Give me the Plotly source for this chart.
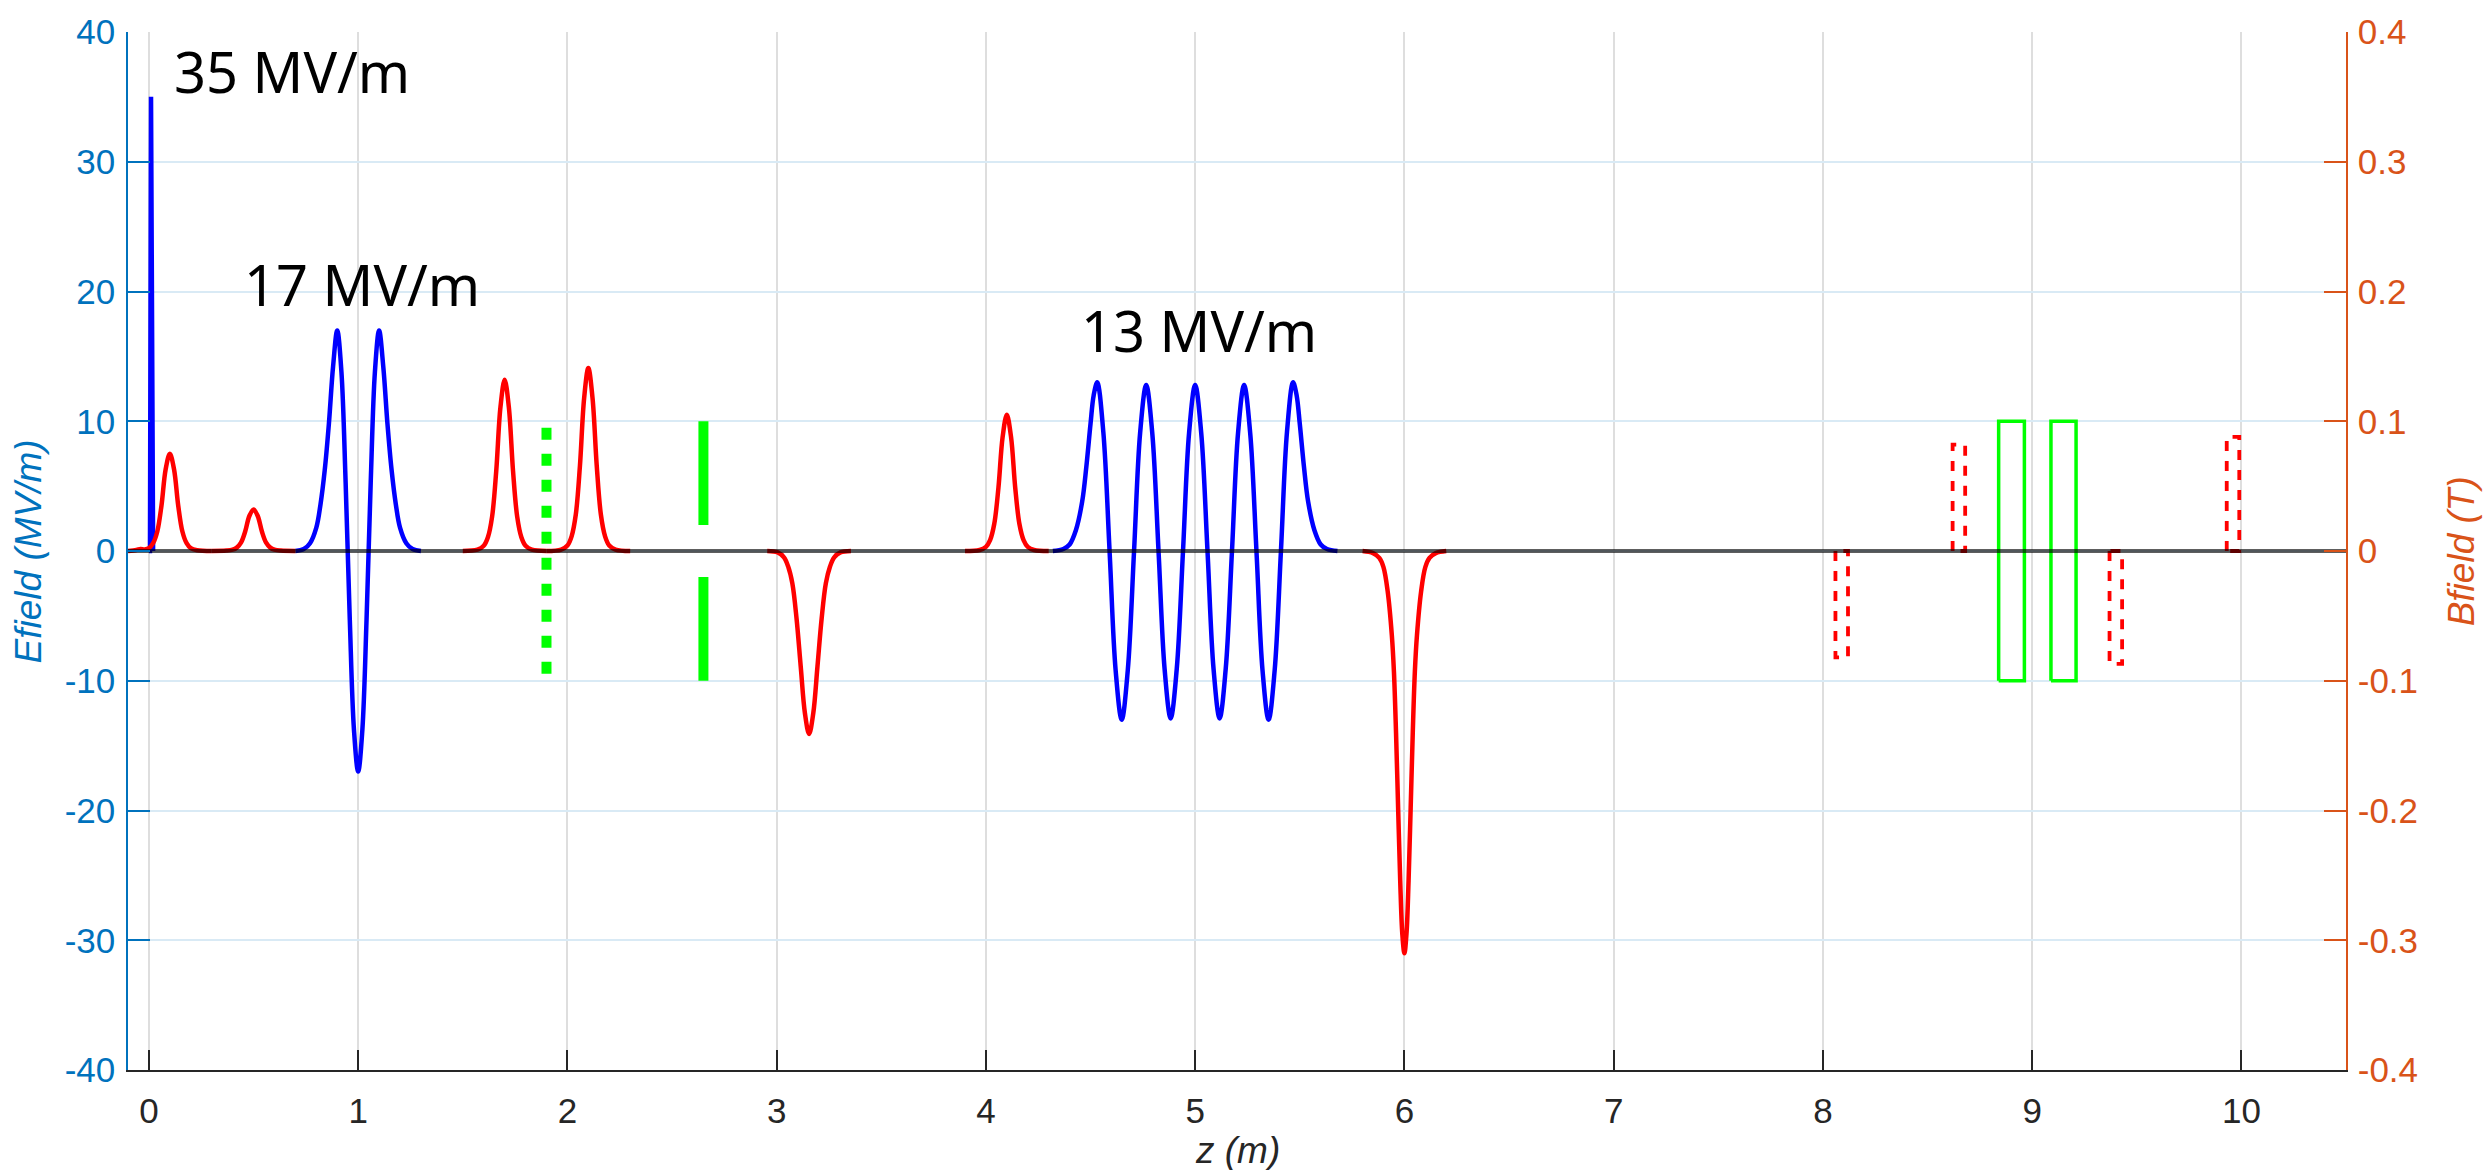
import plotly.graph_objects as go

# ---------------- tick values / labels ----------------
z_ticks = [0, 1, 2, 3, 4, 5, 6, 7, 8, 9, 10]
z_tick_text = ["0", "1", "2", "3", "4", "5", "6", "7", "8", "9", "10"]
e_ticks = [-40, -30, -20, -10, 0, 10, 20, 30, 40]
e_tick_text = ["-40", "-30", "-20", "-10", "0", "10", "20", "30", "40"]
b_ticks = [-0.4, -0.3, -0.2, -0.1, 0, 0.1, 0.2, 0.3, 0.4]
b_tick_text = ["-0.4", "-0.3", "-0.2", "-0.1", "0", "0.1", "0.2", "0.3", "0.4"]

# ---------------- electric field (MV/m) ----------------
gun_z = [0.0, 0.005, 0.010, 0.015, 0.020]
gun_e = [0.0, 0.0, 35.0, 0.0, 0.0]

booster1_z = [0.70, 0.74, 0.77, 0.80, 0.82, 0.84, 0.86, 0.88, 0.90, 0.92, 0.94, 0.96, 0.98,
              1.00, 1.02, 1.04, 1.06, 1.08, 1.10, 1.12, 1.14, 1.16, 1.18, 1.20, 1.23, 1.26, 1.30]
booster1_e = [0.0, 0.15, 0.6, 1.8, 3.6, 6.2, 9.8, 14.2, 17.0, 13.8, 5.3, -5.3, -13.8,
              -17.0, -13.8, -5.3, 5.3, 13.8, 17.0, 14.2, 9.8, 6.2, 3.6, 1.8, 0.6, 0.15, 0.0]

booster2_z = [4.32, 4.37, 4.40, 4.43, 4.46, 4.48, 4.50, 4.515, 4.532, 4.561, 4.591, 4.620,
              4.649, 4.678, 4.708, 4.737, 4.766, 4.795, 4.825, 4.854, 4.883, 4.912, 4.942,
              4.971, 5.000, 5.029, 5.059, 5.088, 5.117, 5.146, 5.176, 5.205, 5.234, 5.263,
              5.293, 5.322, 5.351, 5.380, 5.410, 5.439, 5.468, 5.485, 5.50, 5.52, 5.54,
              5.57, 5.60, 5.63, 5.68]
booster2_e = [0.0, 0.15, 0.5, 1.6, 3.8, 6.5, 9.8, 12.0, 13.0, 9.2, 0.0, -9.2,
              -13.0, -9.2, 0.0, 9.1, 12.8, 9.1, 0.0, -9.1, -12.9, -9.1, 0.0,
              9.1, 12.8, 9.1, 0.0, -9.1, -12.9, -9.1, 0.0, 9.1, 12.8, 9.1,
              0.0, -9.2, -13.0, -9.2, 0.0, 9.2, 13.0, 12.0, 9.8, 6.5, 3.8,
              1.6, 0.5, 0.15, 0.0]

# green elements (drawn on the MV/m scale)
screen_z = [1.9, 1.9]
screen_e = [9.5, -9.5]
slit_top_z = [2.65, 2.65]
slit_top_e = [10.0, 2.0]
slit_bot_z = [2.65, 2.65]
slit_bot_e = [-2.0, -10.0]
quad1_z = [8.84, 8.84, 8.963, 8.963, 8.84]
quad1_e = [-10.0, 10.0, 10.0, -10.0, -10.0]
quad2_z = [9.09, 9.09, 9.21, 9.21, 9.09]
quad2_e = [-10.0, 10.0, 10.0, -10.0, -10.0]

# ---------------- magnetic field (T) ----------------
sol1_z = [-0.10, -0.06, -0.04, -0.02, 0.0, 0.02, 0.04, 0.06, 0.08, 0.10, 0.12, 0.14, 0.16,
          0.18, 0.20, 0.23, 0.30]
sol1_b = [0.0, 0.0008, 0.0015, 0.0012, 0.0022, 0.006, 0.015, 0.035, 0.063, 0.075, 0.063,
          0.035, 0.015, 0.006, 0.0022, 0.0006, 0.0]

sol2_z = [0.30, 0.37, 0.40, 0.42, 0.44, 0.46, 0.48, 0.50, 0.52, 0.54, 0.56, 0.58, 0.60, 0.63, 0.70]
sol2_b = [0.0, 0.0003, 0.001, 0.0026, 0.0064, 0.015, 0.027, 0.032, 0.027, 0.015, 0.0064,
          0.0026, 0.001, 0.0003, 0.0]

sol3_z = [1.50, 1.57, 1.60, 1.62, 1.64, 1.66, 1.68, 1.70, 1.72, 1.74, 1.76, 1.78, 1.80, 1.83, 1.90]
sol3_b = [0.0, 0.001, 0.004, 0.0106, 0.0264, 0.062, 0.111, 0.132, 0.111, 0.062, 0.0264,
          0.0106, 0.004, 0.001, 0.0]

sol4_z = [1.90, 1.97, 2.00, 2.02, 2.04, 2.06, 2.08, 2.10, 2.12, 2.14, 2.16, 2.18, 2.20, 2.23, 2.30]
sol4_b = [0.0, 0.0011, 0.0042, 0.0113, 0.028, 0.066, 0.118, 0.141, 0.118, 0.066, 0.028,
          0.0113, 0.0042, 0.0011, 0.0]

sol5_z = [2.955, 3.005, 3.035, 3.055, 3.075, 3.095, 3.115, 3.135, 3.155, 3.175, 3.195, 3.215,
          3.235, 3.255, 3.275, 3.305, 3.355]
sol5_b = [0.0, -0.0011, -0.0049, -0.012, -0.025, -0.052, -0.089, -0.125, -0.141, -0.125,
          -0.089, -0.052, -0.025, -0.012, -0.0049, -0.0011, 0.0]

sol6_z = [3.90, 3.97, 4.00, 4.02, 4.04, 4.06, 4.08, 4.10, 4.12, 4.14, 4.16, 4.18, 4.20, 4.23, 4.30]
sol6_b = [0.0, 0.0008, 0.0032, 0.0084, 0.021, 0.049, 0.088, 0.105, 0.088, 0.049, 0.021,
          0.0084, 0.0032, 0.0008, 0.0]

sol7_z = [5.80, 5.85, 5.88, 5.90, 5.92, 5.94, 5.95, 5.96, 5.97, 5.98, 5.99, 6.00, 6.01, 6.02,
          6.03, 6.04, 6.05, 6.06, 6.08, 6.10, 6.12, 6.15, 6.20]
sol7_b = [0.0, -0.0016, -0.0053, -0.0124, -0.031, -0.065, -0.093, -0.14, -0.198, -0.254,
          -0.295, -0.31, -0.295, -0.254, -0.198, -0.14, -0.093, -0.065, -0.031, -0.0124,
          -0.0053, -0.0016, 0.0]

# dashed corrector outlines (T)
corr1_z = [8.06, 8.06, 8.12, 8.12, 8.06]
corr1_b = [0.0, -0.082, -0.082, 0.0, 0.0]
corr2_z = [8.62, 8.62, 8.68, 8.68, 8.62]
corr2_b = [0.0, 0.082, 0.082, 0.0, 0.0]
corr3_z = [9.37, 9.37, 9.43, 9.43, 9.37]
corr3_b = [0.0, -0.087, -0.087, 0.0, 0.0]
corr4_z = [9.93, 9.93, 9.99, 9.99, 9.93]
corr4_b = [0.0, 0.088, 0.088, 0.0, 0.0]

# zero baseline
base_z = [-0.1, 10.5]
base_b = [0.0, 0.0]

# text labels
gradient_labels = ["35 MV/m", "17 MV/m", "13 MV/m"]
label_z = [0.11, 0.445, 4.443]
label_e = [37.0, 20.6, 17.0]

BLUE_AX = "#0072BD"
ORANGE_AX = "#D95319"
DARK = "#262626"

fig = go.Figure()

def line(x, y, color, width, yaxis="y", dash="solid", shape="linear"):
    fig.add_trace(go.Scatter(x=x, y=y, mode="lines", yaxis=yaxis, hoverinfo="skip",
                             line=dict(color=color, width=width, dash=dash, shape=shape)))

# E-field traces
line(gun_z, gun_e, "#0000FF", 4.5)
line(booster1_z, booster1_e, "#0000FF", 4.5, shape="spline")
line(booster2_z, booster2_e, "#0000FF", 4.5, shape="spline")

# green elements
line(screen_z, screen_e, "#00FF00", 10, dash="12px,14px")
line(slit_top_z, slit_top_e, "#00FF00", 10)
line(slit_bot_z, slit_bot_e, "#00FF00", 10)
line(quad1_z, quad1_e, "#00FF00", 3.5)
line(quad2_z, quad2_e, "#00FF00", 3.5)

# B-field traces
for zz, bb in [(sol1_z, sol1_b), (sol2_z, sol2_b), (sol3_z, sol3_b), (sol4_z, sol4_b),
               (sol5_z, sol5_b), (sol6_z, sol6_b), (sol7_z, sol7_b)]:
    line(zz, bb, "#FF0000", 4.5, yaxis="y2", shape="spline")
for zz, bb in [(corr1_z, corr1_b), (corr2_z, corr2_b), (corr3_z, corr3_b), (corr4_z, corr4_b)]:
    line(zz, bb, "#FF0000", 3.8, yaxis="y2", dash="10px,10px")

# baseline on top
line(base_z, base_b, "rgba(0,0,0,0.63)", 4, yaxis="y2")

annotations = []
for txt, zx, ey in zip(gradient_labels, label_z, label_e):
    annotations.append(dict(x=zx, y=ey, xref="x", yref="y", text=txt, showarrow=False,
                            xanchor="left", yanchor="middle",
                            font=dict(family="Noto Sans", size=56, color="#000000")))
annotations.append(dict(x=-0.0449, y=0.5, xref="paper", yref="paper", text="<i>Efield (MV/m)</i>",
                        showarrow=False, textangle=-90, xanchor="center", yanchor="middle",
                        font=dict(family="Liberation Sans", size=37, color=BLUE_AX)))
annotations.append(dict(x=1.052, y=0.5, xref="paper", yref="paper", text="<i>Bfield (T)</i>",
                        showarrow=False, textangle=-90, xanchor="center", yanchor="middle",
                        font=dict(family="Liberation Sans", size=37, color=ORANGE_AX)))
annotations.append(dict(x=0.5, y=-0.078, xref="paper", yref="paper", text="<i>z (m)</i>",
                        showarrow=False, xanchor="center", yanchor="middle",
                        font=dict(family="Liberation Sans", size=37, color=DARK)))

fig.update_layout(
    width=2488, height=1170,
    margin=dict(l=128, r=142, t=24, b=100, pad=0),
    paper_bgcolor="white", plot_bgcolor="white",
    showlegend=False,
    font=dict(family="Liberation Sans", size=35, color=DARK),
    annotations=annotations,
    xaxis=dict(range=[-0.1, 10.5], tickmode="array", tickvals=z_ticks, ticktext=z_tick_text,
               ticks="inside", ticklen=20, tickwidth=1.5, tickcolor=DARK,
               showline=True, linecolor=DARK, linewidth=2, mirror=False,
               showgrid=True, gridcolor="#DEDEDE", gridwidth=1.5, zeroline=False,
               tickfont=dict(family="Liberation Sans", size=35, color=DARK),
               ticklabelstandoff=9),
    yaxis=dict(range=[-40, 40], tickmode="array", tickvals=e_ticks, ticktext=e_tick_text,
               ticks="inside", ticklen=22, tickwidth=1.5, tickcolor=BLUE_AX,
               showline=True, linecolor=BLUE_AX, linewidth=1.5,
               showgrid=True, gridcolor="#D9EAF5", gridwidth=1.5, zeroline=False,
               tickfont=dict(family="Liberation Sans", size=35, color=BLUE_AX),
               ticklabelstandoff=4),
    yaxis2=dict(range=[-0.4, 0.4], overlaying="y", side="right", tickmode="array",
                tickvals=b_ticks, ticktext=b_tick_text,
                ticks="inside", ticklen=22, tickwidth=1.5, tickcolor=ORANGE_AX,
                showline=True, linecolor=ORANGE_AX, linewidth=1.5,
                showgrid=False, zeroline=False,
                tickfont=dict(family="Liberation Sans", size=35, color=ORANGE_AX),
                ticklabelstandoff=3),
)

fig.write_html("out.html")
